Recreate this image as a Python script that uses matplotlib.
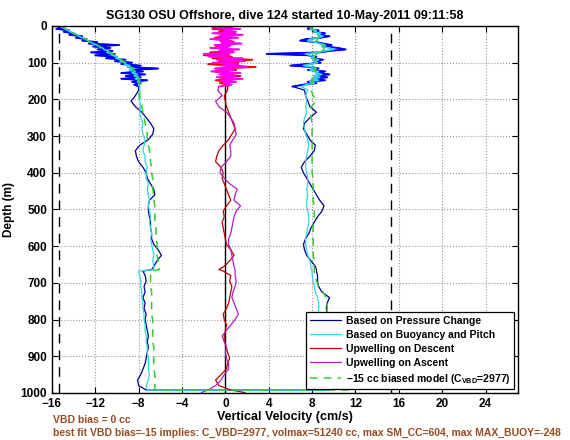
import matplotlib
matplotlib.use("Agg")
import matplotlib.pyplot as plt

plt.rcParams['font.family'] = ['Liberation Sans', 'DejaVu Sans']
plt.rcParams['font.weight'] = 'bold'
plt.rcParams['axes.labelweight'] = 'bold'
plt.rcParams['mathtext.fontset'] = 'custom'
plt.rcParams['mathtext.rm'] = 'Liberation Sans:bold'
plt.rcParams['mathtext.bf'] = 'Liberation Sans:bold'

# depth grids (m): noisy near-surface part and deeper part
top_depth = [0, 4, 8, 12, 16, 20, 24, 28, 32, 36, 40, 44, 48, 52, 56, 60, 64, 68, 72, 76, 80,
             84, 88, 92, 96, 100, 104, 108, 112, 116, 120, 124, 128, 132, 136, 140, 144, 148,
             152, 156, 160, 165]
deep_depth = [175, 190, 205, 220, 235, 250, 265, 280, 295, 310, 325, 340, 355, 370, 385, 400,
              415, 430, 445, 460, 475, 490, 505, 520, 535, 550, 565, 580, 595, 610, 625, 640,
              655, 664, 668, 680, 695, 710, 725, 740, 755, 770, 785, 800, 815, 830, 845, 860,
              875, 890, 905, 920, 935, 950, 965, 980, 992]

# descent, based on pressure change (cm/s)
press_dn_top = [-15.6, -15.0, -15.6, -14.4, -14.9, -14.0, -14.4, -13.2, -13.8, -12.8, -13.2,
                -11.8, -12.6, -9.8, -12.2, -10.6, -11.8, -10.4, -12.4, -10.2, -12.0, -10.0,
                -11.0, -9.2, -10.2, -8.6, -9.6, -7.8, -9.0, -6.2, -8.8, -7.6, -9.6, -7.4, -9.2,
                -7.8, -9.6, -7.2, -8.6, -7.8, -8.4, -8.0]
press_dn_deep = [-8.0, -8.3, -8.7, -8.3, -7.7, -7.3, -6.9, -6.6, -6.7, -7.1, -7.9, -8.3, -8.2,
                 -8.0, -7.6, -7.3, -7.2, -6.9, -6.6, -6.5, -7.0, -7.1, -7.1, -7.0, -6.9, -6.9,
                 -6.8, -6.8, -6.6, -6.2, -5.9, -6.3, -6.6, -6.8, -7.6, -7.4, -7.3, -7.5, -7.4,
                 -7.6, -7.4, -7.5, -7.3, -7.4, -7.3, -7.2, -7.1, -7.2, -7.1, -7.2, -7.3, -7.4,
                 -7.6, -7.8, -8.1, -8.0, -7.3]
# descent, based on buoyancy and pitch
buoy_dn_top = [-15.3, -15.0, -14.8, -14.5, -14.3, -14.0, -13.7, -13.5, -13.2, -12.9, -12.7,
               -12.4, -12.2, -11.8, -11.7, -11.3, -11.2, -10.8, -10.9, -10.5, -10.4, -10.0,
               -10.1, -9.6, -9.7, -9.2, -9.3, -8.8, -9.0, -8.4, -8.8, -8.3, -8.6, -8.1, -8.4,
               -8.0, -8.3, -7.9, -8.1, -7.9, -8.0, -7.9]
buoy_dn_deep = [-7.9, -8.0, -7.9, -7.8, -7.9, -7.8, -7.6, -7.7, -7.6, -7.4, -7.5, -7.6, -7.4,
                -7.4, -7.2, -7.3, -7.3, -7.1, -7.2, -7.1, -7.0, -7.1, -7.0, -6.9, -7.0, -6.9,
                -6.8, -6.9, -6.8, -6.7, -6.6, -6.7, -6.6, -6.6, -8.0, -7.9, -7.8, -7.8, -7.7,
                -7.7, -7.6, -7.6, -7.5, -7.5, -7.4, -7.4, -7.3, -7.3, -7.2, -7.2, -7.1, -7.1,
                -7.1, -7.0, -7.1, -7.3, -7.2]
# descent, -15 cc biased model
model_dn_top = [-15.3, -15.0, -14.7, -14.5, -14.2, -14.0, -13.7, -13.4, -13.2, -12.9, -12.7,
                -12.4, -12.1, -11.9, -11.6, -11.4, -11.1, -10.9, -10.6, -10.4, -10.2, -10.0,
                -9.8, -9.6, -9.4, -9.2, -9.0, -8.9, -8.7, -8.6, -8.5, -8.4, -8.3, -8.2, -8.1,
                -8.1, -8.0, -8.0, -7.9, -7.9, -7.9, -7.9]
model_dn_deep = [-7.9, -7.9, -7.8, -7.7, -7.6, -7.5, -7.4, -7.3, -7.2, -7.2, -7.1, -7.0, -6.9,
                 -6.9, -6.8, -6.8, -6.7, -6.7, -6.7, -6.6, -6.6, -6.5, -6.5, -6.5, -6.5, -6.4,
                 -6.4, -6.4, -6.3, -6.3, -6.3, -6.2, -6.2, -6.1, -6.9, -6.9, -6.9, -6.9, -6.8,
                 -6.8, -6.8, -6.8, -6.8, -6.7, -6.7, -6.7, -6.7, -6.7, -6.6, -6.6, -6.6, -6.6,
                 -6.6, -6.5, -6.5, -6.5, -6.5]

# ascent
press_up_top = [7.4, 8.0, 7.6, 8.6, 8.2, 9.2, 8.6, 9.6, 8.8, 7.4, 6.9, 8.4, 9.0, 9.8, 9.2, 10.4,
                11.1, 9.6, 8.8, 3.8, 7.6, 8.4, 8.0, 9.0, 8.2, 8.8, 7.4, 6.0, 8.0, 8.6, 7.6, 9.2,
                8.4, 9.6, 8.2, 9.4, 8.0, 9.2, 7.6, 8.4, 7.2, 6.2]
press_up_deep = [7.3, 7.4, 7.6, 7.8, 8.4, 7.8, 7.3, 7.2, 7.5, 7.8, 8.3, 8.2, 7.8, 7.3, 7.0, 7.2,
                 7.5, 7.8, 8.1, 8.4, 8.7, 9.1, 8.9, 8.5, 8.2, 7.9, 7.7, 7.4, 7.2, 7.3, 7.5, 7.9,
                 8.3, 8.4, 8.4, 8.5, 8.5, 8.6, 8.9, 9.6, 9.4, 9.3, 9.4, 9.2, 8.9, 8.7, 8.8, 9.0,
                 8.8, 8.6, 8.7, 8.9, 8.8, 8.6, 8.8, 9.0, 9.6]
buoy_up_top = [7.6, 8.0, 7.8, 8.4, 8.2, 8.8, 8.5, 9.0, 8.6, 7.8, 7.6, 8.3, 8.7, 9.2, 8.9, 9.6,
               10.0, 9.2, 8.6, 7.4, 7.8, 8.2, 8.0, 8.6, 8.2, 8.5, 7.8, 7.2, 8.0, 8.4, 7.8, 8.6,
               8.3, 8.9, 8.2, 8.7, 8.0, 8.6, 7.8, 8.2, 7.5, 7.0]
buoy_up_deep = [7.6, 7.4, 7.5, 7.4, 7.5, 7.3, 7.2, 7.3, 7.4, 7.6, 7.7, 7.6, 7.5, 7.4, 7.4, 7.5,
                7.6, 7.6, 7.5, 7.6, 7.5, 7.5, 7.6, 7.7, 7.7, 7.6, 7.5, 7.4, 7.4, 7.5, 7.6, 7.8,
                7.9, 7.9, 8.0, 8.0, 8.1, 8.2, 8.3, 8.5, 8.6, 8.6, 8.6, 8.5, 8.5, 8.4, 8.4, 8.5,
                8.5, 8.4, 8.4, 8.5, 8.5, 8.4, 8.5, 8.7, 9.4]
model_up_top = [7.8, 7.9, 8.0, 8.1, 8.3, 8.4, 8.5, 8.6, 8.6, 8.5, 8.4, 8.5, 8.7, 8.9, 9.0, 9.1,
                9.1, 8.9, 8.7, 8.5, 8.3, 8.2, 8.2, 8.3, 8.3, 8.2, 8.1, 8.0, 8.1, 8.2, 8.2, 8.3,
                8.3, 8.2, 8.2, 8.1, 8.1, 8.0, 8.0, 8.0, 7.9, 7.9]
model_up_deep = [7.9, 8.1, 8.4, 7.9, 7.9, 7.9, 8.0, 8.0, 8.0, 8.0, 8.0, 8.0, 8.0, 8.0, 8.0, 8.0,
                 8.1, 8.1, 8.1, 8.1, 8.1, 8.2, 8.2, 8.2, 8.1, 8.1, 8.1, 8.1, 8.1, 8.1, 8.1, 8.2,
                 8.2, 8.2, 8.2, 8.3, 8.4, 8.6, 9.0, 9.3, 9.4, 9.4, 9.3, 9.2, 9.1, 9.0, 9.0, 9.0,
                 9.0, 9.0, 9.0, 9.0, 9.0, 9.0, 9.0, 9.1, 11.5]

# upwelling (cm/s)
upw_dn_top = [-0.8, 0.6, -1.2, 0.2, -0.6, 0.9, -0.4, 0.4, -1.0, 0.3, -0.5, 0.8, -0.3, 0.5, -0.9,
              0.2, -0.4, 0.7, -1.4, 0.3, -2.0, 0.6, -1.2, 2.5, -0.6, 1.2, -1.6, 0.4, 2.8, -0.8,
              1.0, -1.0, 0.6, -0.4, 1.4, -0.6, 0.8, -0.9, 0.3, -0.5, 0.4, 0.2]
upw_dn_deep = [0.2, -0.1, 0.0, 0.1, 0.3, 0.5, 0.7, 0.9, 0.6, 0.3, -0.2, -0.6, -0.8, -0.9, -0.4,
               -0.2, -0.3, -0.1, 0.1, 0.3, 0.5, 0.1, -0.2, -0.1, -0.3, -0.2, -0.1, 0.0, 0.1, 0.5,
               0.8, 0.4, -0.1, -0.6, -0.2, 0.5, 0.4, 0.6, 0.5, 0.4, 0.3, 0.1, -0.2, -0.1, 0.1,
               0.0, -0.1, -0.1, 0.1, 0.2, 0.4, 0.2, 0.1, -0.4, -0.9, -0.6, 0.5]
upw_up_top = [0.6, -1.2, 1.4, -0.2, 1.0, -1.2, 1.6, -0.6, 1.2, -1.4, 0.6, -0.4, 1.5, -1.0, 0.4,
              -1.4, 1.3, -0.6, 0.8, -2.0, 0.4, -1.5, 1.6, -0.8, 1.8, -1.2, 1.2, -0.4, 2.0, -1.0,
              0.8, -1.3, 1.4, -0.6, 1.0, -0.8, 1.6, -0.4, 1.0, -0.2, 0.6, -0.6]
upw_up_deep = [-0.7, -0.3, -0.9, -0.6, 0.1, 0.5, 0.8, 0.9, 1.0, 0.7, 0.4, 0.5, 0.5, 0.1, -0.4,
               -0.5, -0.1, 0.4, 1.1, 0.9, 0.8, 1.4, 1.0, 0.8, 0.7, 0.6, 0.5, 0.3, 0.3, 0.5, 0.6,
               0.7, 0.8, 0.9, 0.9, 0.9, 1.0, 0.9, 0.7, 0.6, 0.8, 1.0, 1.2, 0.9, 0.5, 0.1, -0.3,
               -0.1, 0.1, 0.0, 0.1, 0.3, 0.3, -0.1, -0.4, -0.9, -1.6]

# bottom / surface end points
bottom_depth = 999
upw_dn_bottom = 1.8
upw_up_bottom = -2.2
surface_red = 30.0
surface_green = -17.0
vbd_limit = 15.3

dn_depth = top_depth + deep_depth
up_depth = deep_depth[::-1] + top_depth[::-1]

fig = plt.figure(figsize=(5.7, 4.4), dpi=100)
ax = fig.add_axes([0.091, 0.107, 0.818, 0.834])

ax.grid(True, linestyle=':', color='#999999', linewidth=0.8)
ax.set_axisbelow(True)

ax.axvline(-vbd_limit, color='k', linestyle=(0, (7, 5)), linewidth=1)
ax.axvline(vbd_limit, color='k', linestyle=(0, (7, 5)), linewidth=1)
ax.axvline(0, color='k', linewidth=1)

# full-dive profiles
ax.plot(press_dn_top + press_dn_deep + press_up_deep[::-1] + press_up_top[::-1],
        dn_depth + up_depth, color='#00008f', linewidth=0.9, label='Based on Pressure Change')
ax.plot(buoy_dn_top + buoy_dn_deep + buoy_up_deep[::-1] + buoy_up_top[::-1],
        dn_depth + up_depth, color='#33d6e0', linewidth=0.9, label='Based on Buoyancy and Pitch')
ax.plot([surface_red] + upw_dn_top + upw_dn_deep + [upw_dn_bottom],
        [0] + dn_depth + [bottom_depth], color='#c00000', linewidth=0.9,
        label='Upwelling on Descent')
ax.plot([upw_up_bottom] + upw_up_deep[::-1] + upw_up_top[::-1],
        [bottom_depth] + up_depth, color='#b020c0', linewidth=0.9,
        label='Upwelling on Ascent')

# noisy near-surface parts drawn brighter
ax.plot(press_dn_top, top_depth, color='#0000ff', linewidth=1.3)
ax.plot(press_up_top, top_depth, color='#0000ff', linewidth=1.3)
ax.plot(buoy_dn_top, top_depth, color='#33d6e0', linewidth=1.2)
ax.plot(buoy_up_top, top_depth, color='#33d6e0', linewidth=1.2)
ax.plot(upw_dn_top, top_depth, color='#ff0000', linewidth=1.2)
ax.plot(upw_up_top, top_depth, color='#ff00ff', linewidth=1.2)

ax.plot(model_dn_top + model_dn_deep + model_up_deep[::-1] + model_up_top[::-1] + [surface_green],
        dn_depth + up_depth + [0], color='#33cc33', linestyle=(0, (5, 4)), linewidth=1.1,
        label=r'$-$15 cc biased model (C$_{\mathbf{VBD}}$=2977)')

ax.set_xlim(-16, 27)
ax.set_ylim(1000, 0)
ax.set_xticks(range(-16, 25, 4))
ax.set_yticks(range(0, 1001, 100))
ax.tick_params(direction='in', top=True, right=True, length=4, labelsize=8.5, width=0.8)
for s in ax.spines.values():
    s.set_linewidth(1)

ax.set_title('SG130 OSU Offshore, dive 124 started 10-May-2011 09:11:58',
             fontsize=9, fontweight='bold', pad=5)
ax.set_xlabel('Vertical Velocity (cm/s)', fontsize=9, labelpad=1)
ax.set_ylabel('Depth (m)', fontsize=8.5, labelpad=4)

leg = ax.legend(loc='lower right', fontsize=7.5, fancybox=False, framealpha=1,
                edgecolor='k', handlelength=3.0, labelspacing=0.38, borderaxespad=0.35,
                borderpad=0.35, handletextpad=0.5)
leg.get_frame().set_linewidth(0.9)

brown = '#9a4a1f'
fig.text(53 / 570, 1 - 420 / 440, 'VBD bias = 0 cc', color=brown, fontsize=7.5,
         fontweight='bold', va='center')
fig.text(53 / 570, 1 - 433 / 440,
         'best fit VBD bias=-15 implies: C_VBD=2977, volmax=51240 cc, max SM_CC=604, '
         'max MAX_BUOY=-248', color=brown, fontsize=7.5, fontweight='bold', va='center')

fig.savefig('out.png', dpi=100)
